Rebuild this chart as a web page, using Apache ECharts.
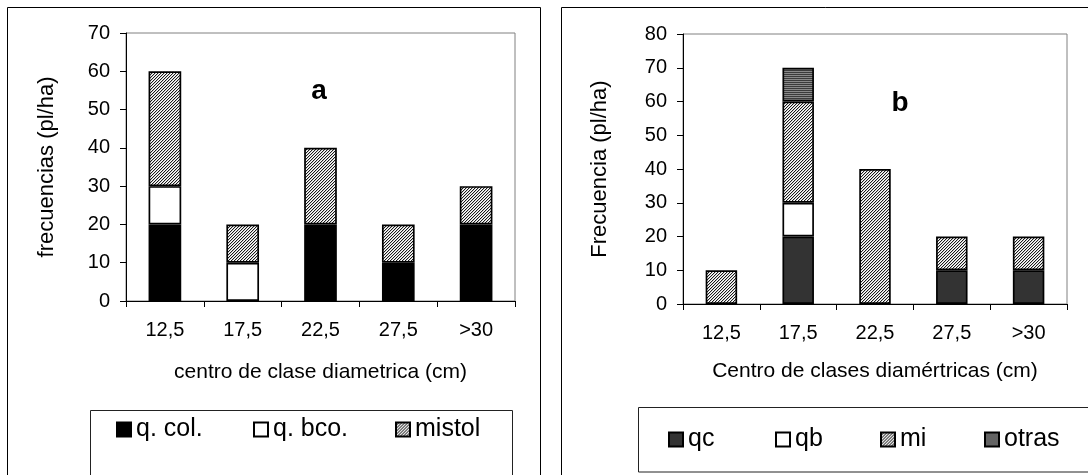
<!DOCTYPE html>
<html>
<head>
<meta charset="utf-8">
<script src="https://cdn.jsdelivr.net/npm/echarts@6/dist/echarts.min.js"></script>
<style>
  html, body { margin: 0; padding: 0; background: #fff; }
  #chart { width: 1088px; height: 475px; }
</style>
</head>
<body>
<div id="chart"></div>
<script>
// ---------- data ----------
const categories = ['12,5', '17,5', '22,5', '27,5', '>30'];

// chart a
const aQCol   = [20, 0, 20, 10, 20];
const aQBco   = [10, 10, 0, 0, 0];
const aMistol = [30, 10, 20, 10, 10];
const aYMax = 70, aYStep = 10;

// chart b
const bQc    = [0, 20, 0, 10, 10];
const bQb    = [0, 10, 0, 0, 0];
const bMi    = [10, 30, 40, 10, 10];
const bOtras = [0, 10, 0, 0, 0];
const bYMax = 80, bYStep = 10;

const aTitles = { x: 'centro de clase diametrica (cm)', y: 'frecuencias (pl/ha)', tag: 'a' };
const bTitles = { x: 'Centro de clases diamértricas (cm)', y: 'Frecuencia (pl/ha)', tag: 'b' };

// ---------- patterns ----------
function hatchPattern() {
  const c = document.createElement('canvas');
  c.width = 3; c.height = 3;
  const g = c.getContext('2d');
  g.fillStyle = '#fff'; g.fillRect(0, 0, 3, 3);
  for (let x = 0; x < 3; x++) for (let y = 0; y < 3; y++) {
    if ((x + y) % 3 === 2) { g.fillStyle = '#1a1a1a'; g.fillRect(x, y, 1, 1); }
    else if ((x + y) % 3 === 0) { g.fillStyle = '#c8c8c8'; g.fillRect(x, y, 1, 1); }
  }
  return { image: c, repeat: 'repeat' };
}
function stripePattern() {
  const c = document.createElement('canvas');
  c.width = 4; c.height = 2;
  const g = c.getContext('2d');
  g.fillStyle = '#3c3c3c'; g.fillRect(0, 0, 4, 1);
  g.fillStyle = '#8a8a8a'; g.fillRect(0, 1, 4, 1);
  return { image: c, repeat: 'repeat' };
}
const HATCH = hatchPattern();
const STRIPE = stripePattern();

const FONT = 'Liberation Sans, Arial, sans-serif';
const nz = arr => arr.map(v => (v === 0 ? '-' : v));

function barSeries(name, data, color, gi, stack, width) {
  return {
    name, type: 'bar', stack, xAxisIndex: gi, yAxisIndex: gi,
    data: nz(data), barWidth: width,
    itemStyle: { color, borderColor: '#000', borderWidth: 1.7 },
    emphasis: { disabled: true }
  };
}

function xAxis(gi, title, gap) {
  return {
    type: 'category', gridIndex: gi, data: categories, boundaryGap: true,
    axisLine: { lineStyle: { color: '#000', width: 1 } },
    axisTick: { show: true, length: 6, alignWithLabel: false, lineStyle: { color: '#000' } },
    axisLabel: { color: '#000', fontSize: 20, fontFamily: FONT, margin: 19 },
    name: title, nameLocation: 'middle', nameGap: gap,
    nameTextStyle: { color: '#000', fontSize: 21, fontFamily: FONT }
  };
}
function yAxis(gi, max, step, title, gap) {
  return {
    type: 'value', gridIndex: gi, min: 0, max, interval: step,
    axisLine: { show: true, lineStyle: { color: '#000', width: 1 } },
    axisTick: { show: true, length: 6, lineStyle: { color: '#000' } },
    axisLabel: { color: '#000', fontSize: 20, fontFamily: FONT, margin: 16 },
    splitLine: { show: false },
    name: title, nameLocation: 'middle', nameGap: gap,
    nameTextStyle: { color: '#000', fontSize: 22, fontFamily: FONT }
  };
}
function legendItem(name, left, top) {
  return {
    data: [name], left, top, padding: 0, orient: 'horizontal',
    itemWidth: 14, itemHeight: 14, selectedMode: false, icon: 'rect',
    textStyle: { color: '#000', fontSize: 25, fontFamily: FONT }
  };
}

const chart = echarts.init(document.getElementById('chart'), null, { renderer: 'canvas' });
chart.setOption({
  animation: false,
  backgroundColor: '#fff',
  grid: [
    { left: 126, top: 33, width: 389, height: 268, show: true, borderColor: '#808080', borderWidth: 1, backgroundColor: 'transparent' },
    { left: 683, top: 34, width: 384, height: 270, show: true, borderColor: '#808080', borderWidth: 1, backgroundColor: 'transparent' }
  ],
  xAxis: [ xAxis(0, aTitles.x, 61), xAxis(1, bTitles.x, 57) ],
  yAxis: [ yAxis(0, aYMax, aYStep, aTitles.y, 68), yAxis(1, bYMax, bYStep, bTitles.y, 72) ],
  legend: [
    legendItem('q. col.', 116, 417),
    legendItem('q. bco.', 253, 417),
    legendItem('mistol', 395, 417),
    legendItem('qc', 668, 427),
    legendItem('qb', 775, 427),
    legendItem('mi', 880, 427),
    legendItem('otras', 984, 427)
  ],
  series: [
    barSeries('q. col.', aQCol, '#000000', 0, 'a', '42%'),
    barSeries('q. bco.', aQBco, '#ffffff', 0, 'a', '42%'),
    barSeries('mistol', aMistol, HATCH, 0, 'a', '42%'),
    barSeries('qc', bQc, '#333333', 1, 'b', '41%'),
    barSeries('qb', bQb, '#ffffff', 1, 'b', '41%'),
    barSeries('mi', bMi, HATCH, 1, 'b', '41%'),
    barSeries('otras', bOtras, STRIPE, 1, 'b', '41%')
  ],
  graphic: [
    { type: 'rect', silent: true, shape: { x: 7.5, y: 7.5, width: 533, height: 500 }, style: { fill: 'none', stroke: '#000', lineWidth: 1 } },
    { type: 'rect', silent: true, shape: { x: 561.5, y: 7.5, width: 600, height: 500 }, style: { fill: 'none', stroke: '#000', lineWidth: 1 } },
    { type: 'rect', silent: true, shape: { x: 90.5, y: 410.5, width: 422, height: 100 }, style: { fill: 'none', stroke: '#222', lineWidth: 1 } },
    { type: 'rect', silent: true, shape: { x: 638.5, y: 407.5, width: 500, height: 64.5 }, style: { fill: 'none', stroke: '#222', lineWidth: 1 } },
    { type: 'text', silent: true, style: { text: aTitles.tag, x: 319, y: 91, align: 'center', verticalAlign: 'middle', font: 'bold 28px ' + FONT, fill: '#000' } },
    { type: 'text', silent: true, style: { text: bTitles.tag, x: 900, y: 103, align: 'center', verticalAlign: 'middle', font: 'bold 28px ' + FONT, fill: '#000' } }
  ]
});
</script>
</body>
</html>
